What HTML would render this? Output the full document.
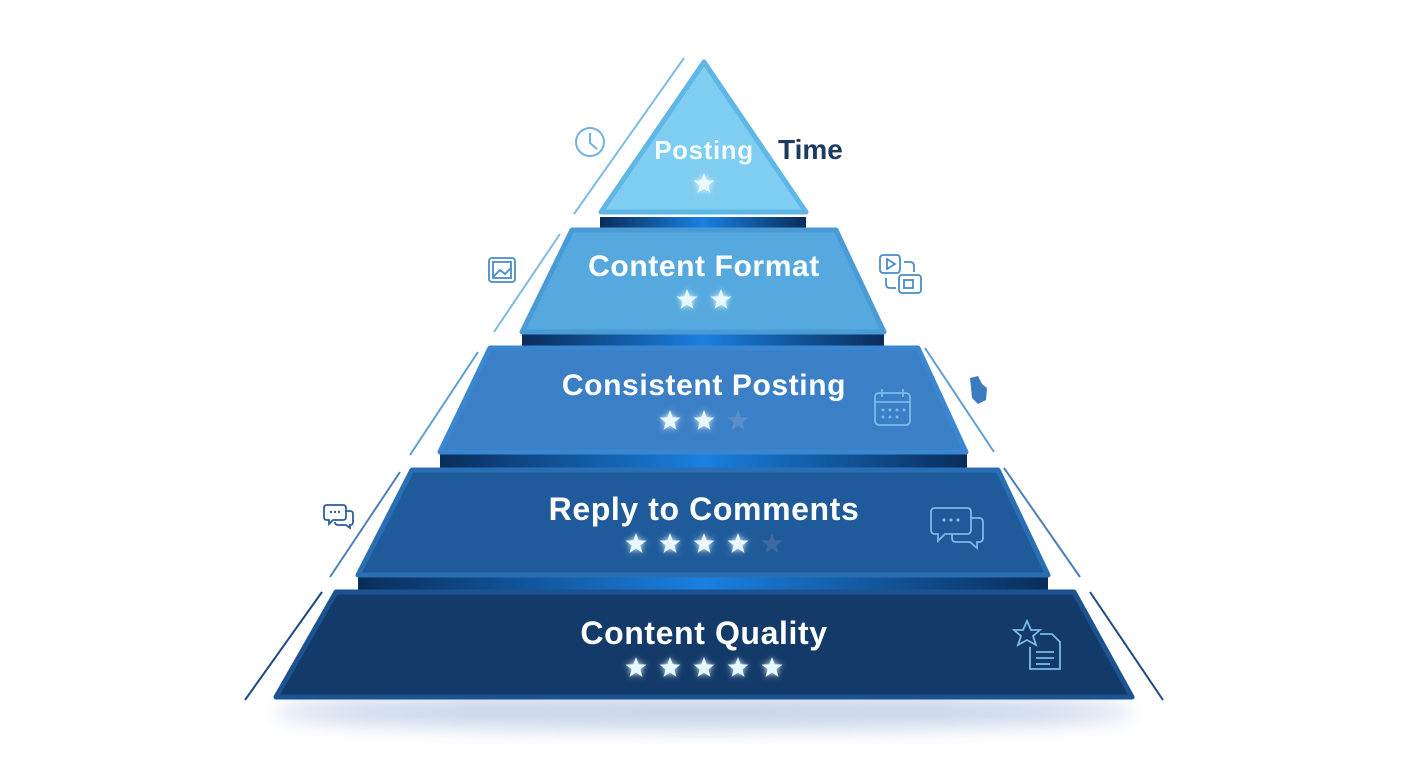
<!DOCTYPE html>
<html><head><meta charset="utf-8"><style>
html,body{margin:0;padding:0;background:#fff;}
svg{display:block;}
text{font-family:"Liberation Sans",sans-serif;font-weight:bold;}
</style></head><body>
<svg width="1408" height="768" viewBox="0 0 1408 768" xmlns="http://www.w3.org/2000/svg">
<defs>
<symbol id="st" viewBox="-12 -12 24 24"><polygon points="0,-11 2.7,-3.72 10.46,-3.4 4.37,1.42 6.47,8.9 0,4.6 -6.47,8.9 -4.37,1.42 -10.46,-3.4 -2.7,-3.72"/></symbol>
<filter id="glow" x="-50%" y="-50%" width="200%" height="200%"><feGaussianBlur stdDeviation="3" result="b"/><feMerge><feMergeNode in="b"/><feMergeNode in="SourceGraphic"/></feMerge></filter>
<filter id="sh" x="-20%" y="-20%" width="140%" height="160%"><feGaussianBlur stdDeviation="10"/></filter>
<linearGradient id="sep" x1="0" x2="1"><stop offset="0" stop-color="#0a2d5a"/><stop offset="0.5" stop-color="#1a80e0"/><stop offset="1" stop-color="#0a2d5a"/></linearGradient>
</defs>
<ellipse cx="704" cy="712" rx="430" ry="18" fill="#c8d6ea" filter="url(#sh)"/>
<g stroke="#7fbbe0" stroke-width="2" fill="none">
<line x1="684" y1="58" x2="574" y2="214"/>
<line x1="560" y1="234" x2="494" y2="332"/>
<line x1="478" y1="352" x2="410" y2="455" stroke="#5f9fd0"/>
<line x1="400" y1="472" x2="330" y2="577" stroke="#4a80b8"/>
<line x1="322" y1="592" x2="245" y2="700" stroke="#1d4a80"/>
<line x1="925" y1="348" x2="994" y2="452" stroke="#5f9fd0"/>
<line x1="1004" y1="468" x2="1080" y2="577" stroke="#4a80b8"/>
<line x1="1090" y1="592" x2="1163" y2="700" stroke="#1d4a80"/>
</g>
<rect x="600" y="217" width="206" height="12" fill="url(#sep)"/>
<rect x="522" y="334" width="362" height="13" fill="url(#sep)"/>
<rect x="440" y="454" width="527" height="14" fill="url(#sep)"/>
<rect x="358" y="577" width="690" height="14" fill="url(#sep)"/>
<g stroke-linejoin="round" stroke-width="5">
<polygon points="704,62 806,212 601,212" fill="#7fcdf0" stroke="#5fb7e6"/>
<polygon points="572,230 836,230 884,332 522,332" fill="#55a9de" stroke="#4a9ad6"/>
<polygon points="490,348 918,348 966,452 440,452" fill="#3b80c6" stroke="#3a86d0"/>
<polygon points="412,470 998,470 1048,575 358,575" fill="#1f5b9b" stroke="#2a6fb4"/>
<polygon points="336,592 1074,592 1132,697 276,697" fill="#133a69" stroke="#1c5290"/>
</g>
<g text-anchor="middle" fill="#fff" letter-spacing="0.6">
<text x="704" y="159" font-size="26" fill="#f2fbff">Posting</text>
<text x="704" y="276" font-size="30">Content Format</text>
<text x="704" y="395" font-size="30">Consistent Posting</text>
<text x="704" y="520" font-size="32">Reply to Comments</text>
<text x="704" y="644" font-size="32">Content Quality</text>
</g>
<text x="778" y="159" font-size="28" fill="#1d3a60">Time</text>
<g fill="#e8f8ff" filter="url(#glow)">
<use href="#st" x="692" y="172" width="24" height="24"/>
<use href="#st" x="675" y="288" width="24" height="24"/><use href="#st" x="709" y="288" width="24" height="24"/>
<use href="#st" x="658" y="409" width="24" height="24"/><use href="#st" x="692" y="409" width="24" height="24"/>
<use href="#st" x="624" y="532" width="24" height="24"/><use href="#st" x="658" y="532" width="24" height="24"/><use href="#st" x="692" y="532" width="24" height="24"/><use href="#st" x="726" y="532" width="24" height="24"/>
<use href="#st" x="624" y="656" width="24" height="24"/><use href="#st" x="658" y="656" width="24" height="24"/><use href="#st" x="692" y="656" width="24" height="24"/><use href="#st" x="726" y="656" width="24" height="24"/><use href="#st" x="760" y="656" width="24" height="24"/>
</g>
<use href="#st" x="726" y="409" width="24" height="24" fill="#5c8fc8"/>
<use href="#st" x="760" y="532" width="24" height="24" fill="#3d6aa0"/>
<g fill="none" stroke="#6fb3df" stroke-width="2">
<circle cx="590" cy="142" r="14"/><polyline points="590,133 590,143 597,149"/>
</g>
<g fill="none" stroke="#4a8cc4" stroke-width="1.8">
<rect x="489" y="258" width="26" height="24" rx="3"/><rect x="493" y="262" width="18" height="16"/><polyline points="493,277 500,270 505,274 511,268"/>
<rect x="880" y="255" width="20" height="18" rx="3"/><polygon points="887,259 895,264 887,269"/>
<rect x="899" y="275" width="22" height="18" rx="3"/><rect x="904" y="280" width="9" height="8"/>
<path d="M886 278 v6 q0 4 4 4 h6"/><path d="M904 262 h6 q4 0 4 4 v6"/>
</g>
<path d="M970 378 l8 -2 l4 8 l5 4 l-1 12 l-8 4 l-6 -6 z" fill="#3b7cc0"/>
<g fill="none" stroke="#7cb9e8" stroke-width="1.8">
<rect x="875" y="393" width="35" height="32" rx="4"/><line x1="875" y1="402" x2="910" y2="402"/><line x1="882" y1="389" x2="882" y2="397"/><line x1="903" y1="389" x2="903" y2="397"/>
<path d="M935 508 h32 q4 0 4 4 v18 q0 4 -4 4 h-22 l-7 7 v-7 h-3 q-4 0 -4 -4 v-18 q0 -4 4 -4z"/>
<path d="M971 518 h8 q4 0 4 4 v16 q0 4 -4 4 h-2 v6 l-7 -6 h-14 q-4 0 -4 -4 v-4"/>
<polygon points="1027,621 1031,630 1040,630 1033,636 1036,645 1027,640 1018,645 1021,636 1014,630 1023,630"/>
<path d="M1040 634 h12 l8 8 v27 h-30 v-22"/><line x1="1036" y1="652" x2="1054" y2="652"/><line x1="1036" y1="658" x2="1054" y2="658"/><line x1="1036" y1="664" x2="1050" y2="664"/>
</g>
<g fill="#7cb9e8"><circle cx="883" cy="410" r="1.5"/><circle cx="890" cy="410" r="1.5"/><circle cx="897" cy="410" r="1.5"/><circle cx="904" cy="410" r="1.5"/><circle cx="883" cy="417" r="1.5"/><circle cx="890" cy="417" r="1.5"/><circle cx="897" cy="417" r="1.5"/><circle cx="944" cy="520" r="1.6"/><circle cx="951" cy="520" r="1.6"/><circle cx="958" cy="520" r="1.6"/></g>
<g fill="none" stroke="#2a5f99" stroke-width="1.8">
<path d="M327 505 h16 q3 0 3 3 v9 q0 3 -3 3 h-10 l-4 4 v-4 h-2 q-3 0 -3 -3 v-9 q0 -3 3 -3z"/>
<path d="M346 511 h4 q3 0 3 3 v8 q0 3 -3 3 v3 l-4 -3 h-8 q-3 0 -3 -3"/>
</g>
<g fill="#2a5f99"><circle cx="331" cy="512" r="1.2"/><circle cx="335" cy="512" r="1.2"/><circle cx="339" cy="512" r="1.2"/></g>
</svg>
</body></html>
